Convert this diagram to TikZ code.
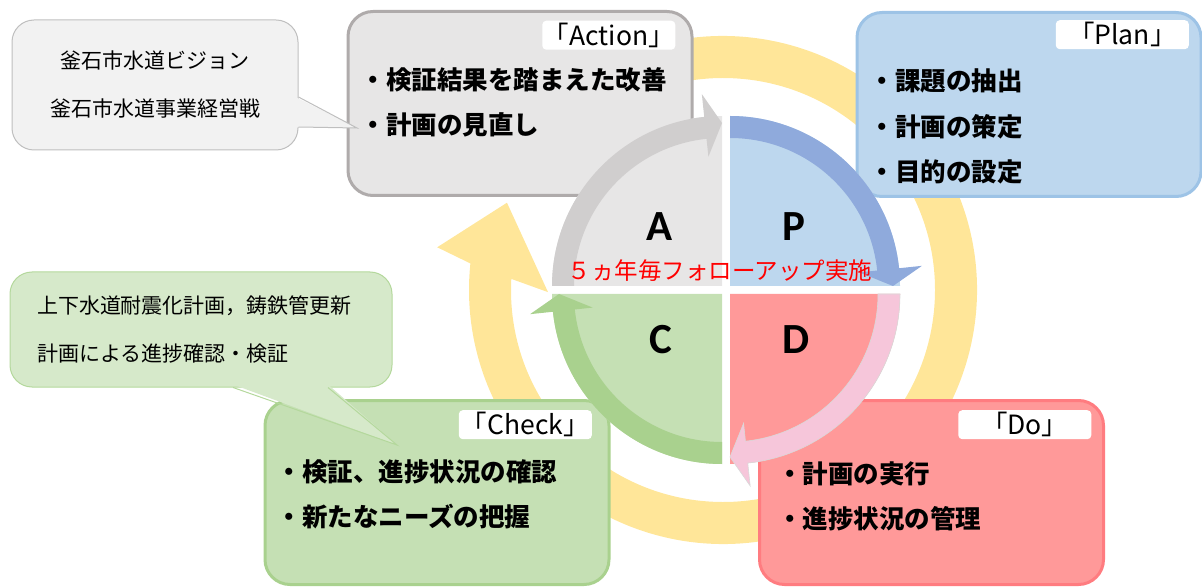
\documentclass[tikz,border=0pt]{standalone}
\usepackage{fontspec}
\newfontfamily\jpfont{Noto Sans CJK JP}
\newfontfamily\latinfont{Carlito}
\usetikzlibrary{positioning,calc}
\definecolor{ringyellow}{RGB}{255,230,153}
\definecolor{actfill}{RGB}{231,230,230}
\definecolor{actline}{RGB}{175,171,171}
\definecolor{planfill}{RGB}{189,215,238}
\definecolor{planline}{RGB}{157,195,230}
\definecolor{dofill}{RGB}{255,153,153}
\definecolor{doline}{RGB}{255,124,128}
\definecolor{chkfill}{RGB}{197,224,180}
\definecolor{chkline}{RGB}{169,209,142}
\definecolor{bandgrey}{RGB}{208,206,206}
\definecolor{bandblue}{RGB}{143,170,220}
\definecolor{bandpink}{RGB}{246,198,218}
\definecolor{bandgreen}{RGB}{169,209,142}
\definecolor{visfill}{RGB}{242,242,242}
\definecolor{visline}{RGB}{191,191,191}
\definecolor{needfill}{RGB}{214,233,202}
\definecolor{needline}{RGB}{180,216,156}
\tikzset{
  stagebox/.style={line width=3pt,rounded corners=25pt,minimum width=344pt,minimum height=184pt},
  tagbox/.style={fill=white,rounded corners=4pt,minimum width=133pt,minimum height=29pt,inner sep=0pt,
    font=\jpfont\fontsize{26.5}{26.5}\selectfont},
  itemtext/.style={align=left,inner sep=0pt,font=\jpfont\bfseries\fontsize{25.5}{45}\selectfont},
  notebox/.style={line width=1pt,rounded corners=22pt,font=\jpfont\fontsize{21}{48}\selectfont},
  pdca/.style={inner sep=0pt,font=\latinfont\bfseries\fontsize{43}{43}\selectfont},
  bandA/.style={fill=bandgrey},
  bandP/.style={fill=bandblue},
  bandD/.style={fill=bandpink,draw=black!15,line width=0.6pt},
  bandC/.style={fill=bandgreen}
}
\begin{document}
\begin{tikzpicture}[x=1pt,y=1pt]
\useasboundingbox (0,0) rectangle (1202,587);
\coordinate (ctr) at (726,297);

% big yellow cycle
\begin{scope}[shift={(723,297)}]
  \fill[ringyellow] (120:254) arc[start angle=120,end angle=-186,radius=254] -- (171.5:289) -- (158:233)
    -- (180.7:175) -- (-183:212) arc[start angle=-183,end angle=120,radius=212] -- cycle;
\end{scope}

% four stages
\node[stagebox,draw=actline,fill=actfill] (act) at (520,483.5) {};
\node[stagebox,draw=planline,fill=planfill] (plan) at (1029,482.5) {};
\node[stagebox,draw=doline,fill=dofill] (do) at (931.5,94.5) {};
\node[stagebox,draw=chkline,fill=chkfill] (chk) at (437,94.5) {};

\node[tagbox,below left=10.5pt and 18pt of act.north east] (acttag) {「Action」};
\node[tagbox,below left=9pt and 13.5pt of plan.north east] (plantag) {「Plan」};
\node[tagbox,below left=11pt and 13.5pt of do.north east] (dotag) {「Do」};
\node[tagbox,below left=11pt and 18.5pt of chk.north east] (chktag) {「Check」};

\node[itemtext,below right=57pt and 14pt of act.north west] (acttxt) {・検証結果を踏まえた改善\\・計画の見直し};
\node[itemtext,below right=58pt and 14pt of plan.north west] (plantxt) {・課題の抽出\\・計画の策定\\・目的の設定};
\node[itemtext,below right=62pt and 19pt of do.north west] (dotxt) {・計画の実行\\・進捗状況の管理};
\node[itemtext,below right=60pt and 13pt of chk.north west] (chktxt) {・検証、進捗状況の確認\\・新たなニーズの把握};

% PDCA circle
\foreach \st/\qf/\qb/\sx/\sy in {180/actfill/bandA/-4/4, 90/planfill/bandP/4/4, 0/dofill/bandD/4/-4, -90/chkfill/bandC/-4/-4}
{
  \begin{scope}[shift={($(ctr)+(\sx,\sy)$)}]
    \fill[\qf] (0,0) -- (\st:170) arc[start angle=\st,end angle=\st-90,radius=170] -- cycle;
    \path[\qb] (\st:170) arc[start angle=\st,end angle=\st-84,radius=170] -- ({\st-84}:193) -- ({\st-90}:163)
      -- ({\st-84}:130) -- ({\st-84}:148) arc[start angle=\st-84,end angle=\st,radius=148] -- cycle;
  \end{scope}
}
\node[pdca] (la) at (660,360) {A};
\node[pdca] (lp) at (794,360) {P};
\node[pdca] (lc) at (661,247) {C};
\node[pdca] (ld) at (796,247) {D};
\node[inner sep=0pt,text=red,font=\jpfont\fontsize{23.5}{23.5}\selectfont] (cyc) at (720,316) {５ヵ年毎フォローアップ実施};

% notes
\node[notebox,draw=visline,fill=visfill,minimum width=286pt,minimum height=130pt,align=center] (vis) at (155,502)
  {釜石市水道ビジョン\\釜石市水道事業経営戦};
\coordinate (visa) at ($(vis.east)+(0,-12)$);
\coordinate (visb) at ($(vis.east)+(0,-42)$);
\coordinate (vistip) at (357,459);
\fill[visfill] ($(visa)+(-3,0)$) -- (vistip) -- ($(visb)+(-3,0)$) -- cycle;
\draw[visline,line width=1pt] (visa) -- (vistip) -- (visb);

\node[notebox,draw=needline,fill=needfill,minimum width=382pt,minimum height=115pt,align=left,
  text width=328pt,inner xsep=27pt] (need) at (201,257.5)
  {上下水道耐震化計画，鋳鉄管更新\\計画による進捗確認・検証};
\coordinate (needa) at ($(need.south)+(32,0)$);
\coordinate (needb) at ($(need.south)+(127,0)$);
\coordinate (needtip) at (397,142);
\fill[needfill] ($(needa)+(0,3)$) -- (needtip) -- ($(needb)+(0,3)$) -- cycle;
\draw[needline,line width=1pt] (needa) -- (needtip) -- (needb);
\end{tikzpicture}
\end{document}
